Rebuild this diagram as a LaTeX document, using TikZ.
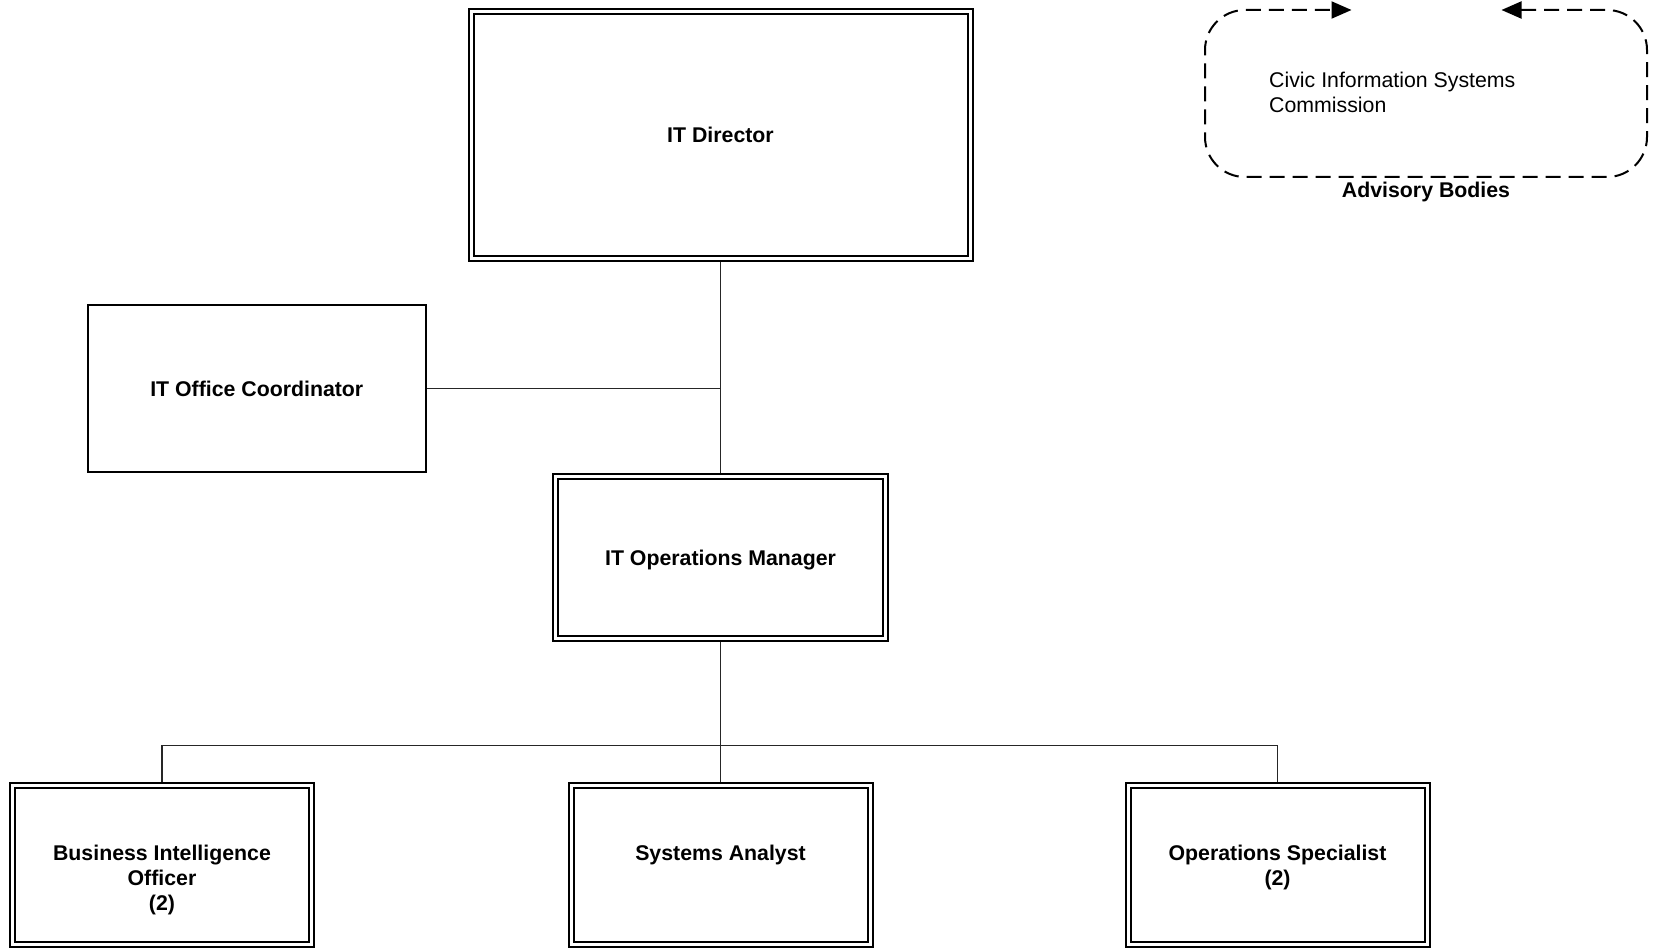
\documentclass[tikz,border=0pt]{standalone}
\usepackage{fontspec}
\setmainfont{Liberation Sans}
\usetikzlibrary{arrows.meta}
\newcommand\figfs{\fontsize{21.3}{25.4}\selectfont}
\begin{document}
\begin{tikzpicture}[x=1pt,y=-1pt,
  dbox/.style={draw, double, line width=2pt, double distance=3pt, outer sep=3.5pt, inner sep=0pt, font=\bfseries\figfs, text depth=0pt, align=center},
  sbox/.style={draw, line width=2pt, outer sep=1pt, inner sep=0pt, font=\bfseries\figfs, text depth=0pt},
  conn/.style={line width=1.1pt, black!85},
  dashline/.style={line width=2pt, dash pattern=on 15pt off 8pt, rounded corners=40pt,
    arrows={Triangle[length=20pt,width=17pt]-Triangle[length=20pt,width=17pt]}},
  ttext/.style={inner sep=0pt, anchor=base, font=\bfseries\figfs}]
\useasboundingbox (0,0) rectangle (1659,949);

% boxes
\node[dbox, minimum width=499pt, minimum height=247pt] (dir) at (720.5,135) {IT Director};
\node[sbox, minimum width=337.5pt, minimum height=167pt] (coord) at (256.75,388.5) {IT Office Coordinator};
\node[dbox, minimum width=330pt, minimum height=162pt] (ops) at (720.5,557.5) {IT Operations Manager};
\node[dbox, minimum width=299pt, minimum height=159pt] (bi) at (162,865) {};
\node[dbox, minimum width=299pt, minimum height=159pt] (sa) at (720.5,865) {};
\node[dbox, minimum width=299pt, minimum height=159pt] (os) at (1277.5,865) {};

% bottom-row texts
\node[ttext] (biT) at (162,860) {\begin{tabular}[t]{@{}c@{}}Business Intelligence\\Officer\\(2)\end{tabular}};
\node[ttext] (saT) at (720.5,860) {Systems Analyst};
\node[ttext] (osT) at (1277.5,860) {\begin{tabular}[t]{@{}c@{}}Operations Specialist\\(2)\end{tabular}};

% connectors
\draw[conn] (dir.south) -- (ops.north);
\draw[conn] (coord.east) -- (coord.east -| dir.south);
\coordinate (hub) at (720.5,745.8);
\draw[conn] (ops.south) -- (hub);
\draw[conn] (bi.north) |- (hub) -| (os.north);
\draw[conn] (hub) -- (sa.north);

% advisory bodies
\draw[dashline] (1501.5,10) -- (1647,10) -- (1647,177) -- (1205,177) -- (1205,10) -- (1351.5,10);
\node[inner sep=0pt, anchor=base west, font=\figfs] (civic) at (1269,87.5)
  {\begin{tabular}[t]{@{}l@{}}Civic Information Systems\\Commission\end{tabular}};
\node[ttext] (adv) at (1426,197.4) {Advisory Bodies};
\end{tikzpicture}
\end{document}
